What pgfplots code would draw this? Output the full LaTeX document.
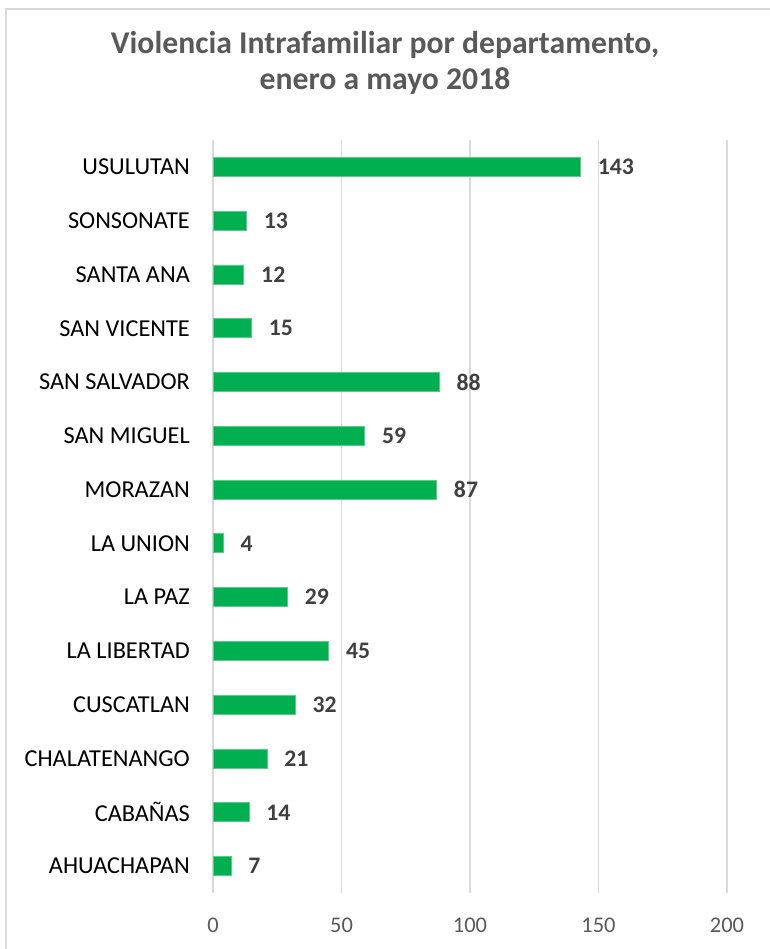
\documentclass[border=0pt]{standalone}
\usepackage{pgfplots}
\pgfplotsset{compat=1.18}
\usepackage{fontspec}
\setmainfont{Carlito}
\definecolor{bargreen}{HTML}{00B050}
\definecolor{baredge}{HTML}{5CCB8A}
\definecolor{titlegray}{HTML}{595959}
\definecolor{labelgray}{HTML}{404040}
\definecolor{gridgray}{HTML}{D9D9D9}
\definecolor{bordergray}{HTML}{D9D9D9}
\begin{document}
\begin{tikzpicture}[x=1bp,y=1bp]
\useasboundingbox (0,0) rectangle (770,949);
\draw[color=bordergray, line width=1.5bp] (6,0) -- (6,940) -- (770,940);
\node[font=\fontsize{31.8}{36}\selectfont\bfseries, text=titlegray, align=center] at (385,886) {Violencia Intrafamiliar por departamento,\\enero a mayo 2018};
\begin{axis}[
  at={(213bp,56bp)}, anchor=south west,
  scale only axis, width=514bp, height=753bp,
  xbar, bar width=19bp,
  xmin=0, xmax=200, ymin=-0.5, ymax=13.5,
  xtick={0,50,100,150,200},
  ytick={0,...,13},
  yticklabels={AHUACHAPAN,CABAÑAS,CHALATENANGO,CUSCATLAN,LA LIBERTAD,LA PAZ,LA UNION,MORAZAN,SAN MIGUEL,SAN SALVADOR,SAN VICENTE,SANTA ANA,SONSONATE,USULUTAN},
  axis line style={draw=none},
  major tick length=0pt,
  xmajorgrids, grid style={color=gridgray, line width=1.3bp},
  /pgf/number format/assume math mode=true,
  xticklabel style={font=\fontsize{22.5}{26}\selectfont, text=titlegray, inner sep=0pt, yshift=-25bp},
  yticklabel style={font=\fontsize{24.4}{28}\selectfont, text=black, inner sep=0pt, xshift=-23bp},
  nodes near coords,
  nodes near coords style={font=\fontsize{23.8}{28}\selectfont\bfseries, text=labelgray, anchor=west, inner sep=0pt, xshift=17bp},
]
\addplot[fill=bargreen, draw=baredge, line width=0.8bp] coordinates {
(7,0) (14,1) (21,2) (32,3) (45,4) (29,5) (4,6) (87,7) (59,8) (88,9) (15,10) (12,11) (13,12) (143,13)
};
\end{axis}
\end{tikzpicture}
\end{document}
